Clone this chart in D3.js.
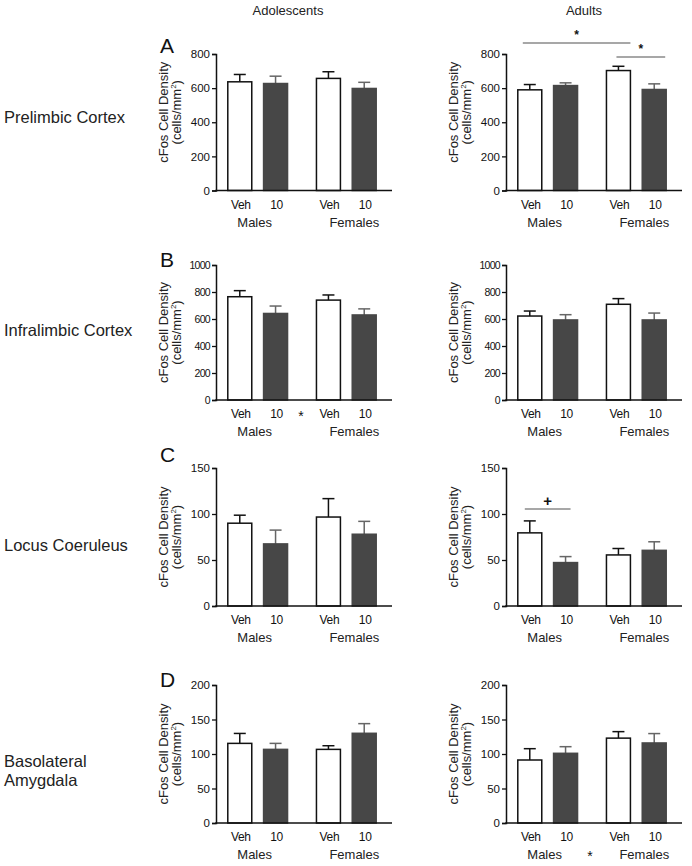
<!DOCTYPE html>
<html><head><meta charset="utf-8">
<script src="https://cdn.jsdelivr.net/npm/d3@7/dist/d3.min.js"></script>
<style>
html,body{margin:0;padding:0;background:#fff;}
svg{display:block;font-family:Arial,"Liberation Sans",Helvetica,sans-serif;}
</style></head>
<body><svg id="chart" width="692" height="866"></svg>
<script>
// ---------- data ----------
const ages = ["Adolescents", "Adults"];
const regions = ["Prelimbic Cortex", "Infralimbic Cortex", "Locus Coeruleus", "Basolateral Amygdala"];
const panelLetters = ["A", "B", "C", "D"];
const sexes = ["Males", "Females"];
const treatments = ["Veh", "10"];
const yMax = [800, 1000, 150, 200];
const yTicks = [
  [0, 200, 400, 600, 800],
  [0, 200, 400, 600, 800, 1000],
  [0, 50, 100, 150],
  [0, 50, 100, 150, 200]
];
// order of bars: Males-Veh, Males-10, Females-Veh, Females-10
const plAdolMean = [637, 627, 657, 598];
const plAdolSem  = [43, 43, 39, 36];
const plAdultMean = [590, 615, 703, 592];
const plAdultSem  = [31, 16, 25, 33];
const ilAdolMean = [765, 641, 740, 630];
const ilAdolSem  = [45, 55, 38, 45];
const ilAdultMean = [622, 593, 709, 593];
const ilAdultSem  = [37, 39, 42, 51];
const lcAdolMean = [90, 67.5, 96.7, 78];
const lcAdolSem  = [8.7, 15, 20, 14];
const lcAdultMean = [79.5, 47.2, 55.5, 60.5];
const lcAdultSem  = [13, 6.5, 7, 9.3];
const blaAdolMean = [115.4, 106.7, 106.7, 130];
const blaAdolSem  = [14.4, 8.7, 5.3, 14];
const blaAdultMean = [91.3, 101, 123, 116];
const blaAdultSem  = [16.4, 9.6, 9.4, 13.6];

const means = [[plAdolMean, plAdultMean], [ilAdolMean, ilAdultMean], [lcAdolMean, lcAdultMean], [blaAdolMean, blaAdultMean]];
const sems  = [[plAdolSem, plAdultSem], [ilAdolSem, ilAdultSem], [lcAdolSem, lcAdultSem], [blaAdolSem, blaAdultSem]];

// significance brackets: [row, col, fromBar, toBar, symbol]
const sigBrackets = [
  [0, 1, 0, 2, "*"],
  [0, 1, 2, 3, "*"],
  [2, 1, 0, 1, "+"]
];
// main-effect stars: [row, col, position]
const mainStars = [[1, 0, "treat"], [3, 1, "sex"]];

// ---------- layout ----------
const svg = d3.select("#chart");
const axisXs = [216, 506];
const yTops = [54, 265, 468, 685];
const yBottoms = [190.5, 400, 606, 823];
const xLen = 176;
const yTitleShift = [-10, 0, 0, 0];
const rowLabelY = [[123], [336], [551], [767, 786]];
// bracket geometry: [left inset, right inset, line y offset]
const bracketGeom = [[5, 0, null], [10, -1, null], [7, -7, null]];
const bracketY = [yTops[0] - 11, yTops[0] + 3, null];
const font = 'Arial,"Liberation Sans",Helvetica,sans-serif';

svg.append("rect").attr("width", 692).attr("height", 866).attr("fill", "#fff");

// column headers
const headerX = [288, 584];
ages.forEach((a, i) => {
  svg.append("text").attr("x", headerX[i]).attr("y", 15).attr("text-anchor", "middle")
    .attr("font-size", 13).attr("fill", "#222").text(a);
});

// row labels
regions.forEach((r, i) => {
  const lines = r === "Basolateral Amygdala" ? ["Basolateral", "Amygdala"] : [r];
  lines.forEach((l, j) => {
    svg.append("text").attr("x", 4).attr("y", rowLabelY[i][j]).attr("font-size", 16.5)
      .attr("fill", "#222").text(l);
  });
});

// panel letters
const letterY = [53, 267, 462, 687];
panelLetters.forEach((l, i) => {
  svg.append("text").attr("x", 160).attr("y", letterY[i]).attr("font-size", 21)
    .attr("fill", "#111").text(l);
});

const sexScale = d3.scaleBand().domain(sexes).range([0, 172]).paddingInner(0.1).paddingOuter(0.02);
const trtScale = d3.scaleBand().domain(treatments).range([0, sexScale.bandwidth()]).paddingInner(0.33).paddingOuter(0.28);
const barKeys = [];
sexes.forEach(s => treatments.forEach(t => barKeys.push([s, t])));

let bIdx = 0;
for (let r = 0; r < 4; r++) {
  for (let c = 0; c < 2; c++) {
    const ax = axisXs[c];
    const y = d3.scaleLinear().domain([0, yMax[r]]).range([yBottoms[r], yTops[r]]);
    const g = svg.append("g");
    const xOf = (i) => ax + sexScale(barKeys[i][0]) + trtScale(barKeys[i][1]);
    const bw = trtScale.bandwidth();

    // y axis
    const yAxis = d3.axisLeft(y).tickValues(yTicks[r]).tickSize(4).tickPadding(2).tickFormat(d3.format("d"));
    const ga = g.append("g").attr("transform", `translate(${ax},0)`).call(yAxis);
    ga.select(".domain").attr("stroke", "#111").attr("stroke-width", 1.5);
    ga.selectAll(".tick line").attr("stroke", "#111").attr("stroke-width", 1.3);
    ga.selectAll(".tick text").attr("font-size", r === 1 ? 10.5 : 11.5).attr("font-family", font).attr("fill", "#111")
      .attr("letter-spacing", r === 1 ? -0.7 : 0);

    // y title
    const ty = (yTops[r] + yBottoms[r]) / 2 + yTitleShift[r];
    const tt = g.append("text").attr("transform", `translate(${ax - 48},${ty}) rotate(-90)`)
      .attr("text-anchor", "middle").attr("font-size", 13).attr("fill", "#222");
    tt.text("cFos Cell Density");
    const t2 = g.append("text").attr("transform", `translate(${ax - 35},${ty}) rotate(-90)`)
      .attr("text-anchor", "middle").attr("font-size", 13).attr("fill", "#222");
    t2.append("tspan").text("(cells/mm");
    t2.append("tspan").attr("font-size", 8).attr("dy", -5).text("2");
    t2.append("tspan").attr("dy", 5).text(")");

    // error bars
    const m = means[r][c], s = sems[r][c];
    barKeys.forEach((k, i) => {
      const cx = xOf(i) + bw / 2;
      const col = k[1] === "Veh" ? "#111" : "#666";
      g.append("line").attr("x1", cx).attr("x2", cx).attr("y1", y(m[i])).attr("y2", y(m[i] + s[i]))
        .attr("stroke", col).attr("stroke-width", 1.5);
      g.append("line").attr("x1", cx - bw / 4).attr("x2", cx + bw / 4).attr("y1", y(m[i] + s[i])).attr("y2", y(m[i] + s[i]))
        .attr("stroke", col).attr("stroke-width", 1.5);
    });
    // bars
    barKeys.forEach((k, i) => {
      const veh = k[1] === "Veh";
      g.append("rect").attr("x", xOf(i)).attr("width", bw)
        .attr("y", y(m[i])).attr("height", y(0) - y(m[i]))
        .attr("fill", veh ? "#fff" : "#474747")
        .attr("stroke", veh ? "#111" : "#474747").attr("stroke-width", 1.5);
    });
    // x axis line
    g.append("line").attr("x1", ax - 0.75).attr("x2", ax + xLen).attr("y1", y(0)).attr("y2", y(0))
      .attr("stroke", "#111").attr("stroke-width", 1.5);

    // treatment labels
    barKeys.forEach((k, i) => {
      g.append("text").attr("x", xOf(i) + bw / 2 + 1).attr("y", y(0) + 18).attr("text-anchor", "middle")
        .attr("font-size", 12).attr("fill", "#111").attr("letter-spacing", -0.3).text(k[1]);
    });
    // sex labels
    const sexShift = { Males: -3, Females: 8 };
    sexes.forEach(sx => {
      g.append("text").attr("x", ax + sexScale(sx) + sexScale.bandwidth() / 2 + sexShift[sx])
        .attr("y", y(0) + 36).attr("text-anchor", "middle").attr("font-size", 13).attr("fill", "#222").text(sx);
    });

    // significance brackets
    sigBrackets.forEach((b, j) => {
      if (b[0] !== r || b[1] !== c) return;
      const [li, ri] = bracketGeom[j];
      const x1 = xOf(b[2]) + li, x2 = xOf(b[3]) + bw + ri;
      const topVal = d3.max(m.map((v, i) => v + s[i]).slice(b[2], b[3] + 1));
      const ly = bracketY[j] !== null ? bracketY[j] : y(topVal) - 12;
      g.append("line").attr("x1", x1).attr("x2", x2).attr("y1", ly).attr("y2", ly)
        .attr("stroke", "#8a8a8a").attr("stroke-width", 1.5);
      const sym = b[4];
      g.append("text").attr("x", (x1 + x2) / 2).attr("y", sym === "*" ? ly - 4 : ly - 3)
        .attr("text-anchor", "middle").attr("font-size", sym === "*" ? 12 : 15)
        .attr("font-weight", "bold").attr("fill", "#111").text(sym);
    });

    // main-effect stars
    mainStars.filter(st => st[0] === r && st[1] === c).forEach(st => {
      let sx, sy;
      if (st[2] === "treat") { sx = (xOf(1) + bw + xOf(2)) / 2 - 1; sy = y(0) + 21; }
      else { sx = (xOf(1) + bw + xOf(2)) / 2 - 2; sy = y(0) + 38; }
      g.append("text").attr("x", sx).attr("y", sy).attr("text-anchor", "middle")
        .attr("font-size", 14).attr("fill", "#111").text("*");
    });
  }
}
</script>
</body></html>
